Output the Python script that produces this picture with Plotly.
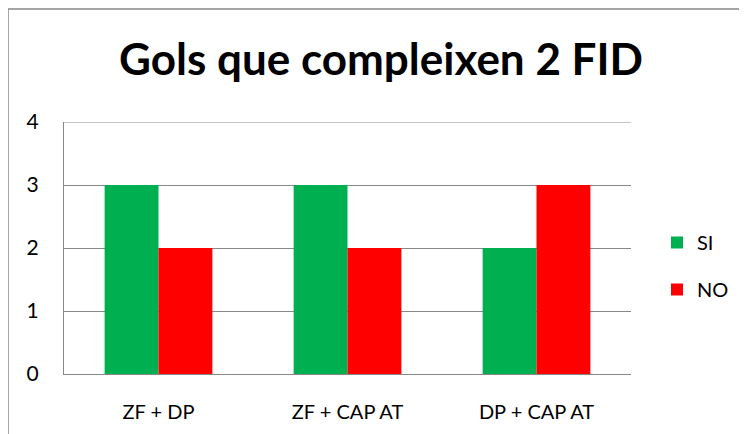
import plotly.graph_objects as go

categories = ["ZF + DP", "ZF + CAP AT", "DP + CAP AT"]
si_values = [3, 3, 2]
no_values = [2, 2, 3]
y_ticks = [0, 1, 2, 3, 4]

FONT = "Lato"
fig = go.Figure()
fig.add_trace(go.Bar(x=categories, y=si_values, name="SI", marker_color="#00B050",
                     marker_line_width=0, legendgroup="a"))
fig.add_trace(go.Bar(x=categories, y=no_values, name="NO", marker_color="#FF0000",
                     marker_line_width=0, legendgroup="b"))

# page has an 8px body offset, so figure coords = screen coords - 8
OFF = 8
W, H = 780, 434
L = 64 - OFF
T = 122 - OFF
R = W - (631 - OFF)
B = H - (374 - OFF)
pw, ph = W - L - R, H - T - B
x0 = (8 - OFF - L) / pw
y1 = (H - B - (9 - OFF)) / ph

fig.update_layout(
    width=W, height=H,
    margin=dict(l=L, r=R, t=T, b=B),
    paper_bgcolor="white", plot_bgcolor="white",
    barmode="group", bargap=0.43, bargroupgap=0,
    font=dict(family=FONT, size=20, color="#000000"),
    title=dict(text="<b>Gols que compleixen 2 FID</b>", x=(381 - OFF) / W, xanchor="center",
               y=1 - (60 - OFF) / H, yanchor="middle", xref="container",
               font=dict(family=FONT, size=44, color="#000000")),
    showlegend=True,
    legend=dict(x=(657 - OFF - L) / pw, xanchor="left", y=(H - B - (266 - OFF)) / ph,
                yanchor="middle", font=dict(family=FONT, size=20), tracegroupgap=18,
                bgcolor="rgba(0,0,0,0)"),
    xaxis=dict(showgrid=False, showline=True, linecolor="#888888", linewidth=1,
               ticks="", ticklabelstandoff=20, tickfont=dict(size=20)),
    yaxis=dict(range=[0, y_ticks[-1]], tickvals=y_ticks, showgrid=True, gridcolor="#888888",
               gridwidth=1, showline=True, linecolor="#888888", linewidth=1,
               zeroline=False, ticks="", ticklabelstandoff=20, tickfont=dict(size=21)),
    shapes=[
        dict(type="rect", xref="paper", yref="paper", x0=x0, x1=1.6,
             y0=-0.6, y1=y1, line=dict(color="#888888", width=1.5),
             fillcolor="rgba(0,0,0,0)", layer="below"),
        dict(type="line", xref="paper", yref="y", x0=0, x1=1,
             y0=y_ticks[-1], y1=y_ticks[-1], line=dict(color="#888888", width=1),
             layer="below"),
    ],
)
fig.write_html("out.html")
